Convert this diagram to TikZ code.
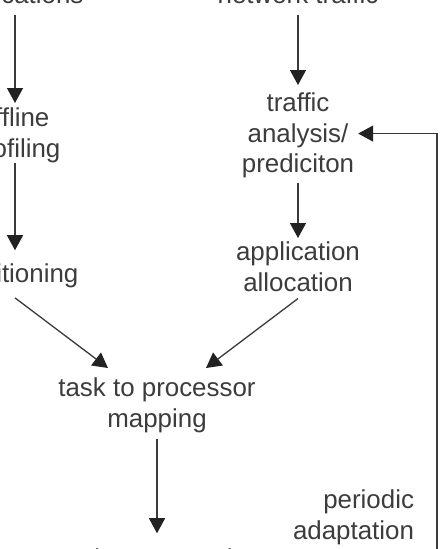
\documentclass[tikz,border=0pt]{standalone}
\usepackage{fontspec}
\setmainfont{Liberation Sans}
\usetikzlibrary{arrows.meta}
\definecolor{txt}{HTML}{3C3C3C}
\definecolor{ln}{HTML}{3A3A3A}
\definecolor{hd}{HTML}{222222}
\begin{document}
\begin{tikzpicture}[x=1pt,y=1pt,
  lbl/.style={inner sep=0pt,outer sep=0pt,align=center,text=txt,
    font=\fontsize{25.9pt}{30.5pt}\selectfont},
  arr/.style={draw=ln,line width=1.3pt,
    -{Triangle[length=15pt,width=16pt,fill=hd,color=hd]}}]
\useasboundingbox (0,0) rectangle (441,-549);
% nodes
\node[lbl,anchor=base] (app) at (15,-3) {applications};
\node[lbl,anchor=base] (net) at (298,-3) {network traffic};
\node[lbl,anchor=north] (off) at (15,-108) {offline\\profiling};
\node[lbl,anchor=north] (ta) at (298,-93) {traffic\\analysis/\\prediciton};
\node[lbl,anchor=base] (part) at (15,-282) {partitioning};
\node[lbl,anchor=north] (aa) at (298,-242) {application\\allocation};
\node[lbl,anchor=north] (tpm) at (157,-378) {task to processor\\mapping};
\node[lbl,anchor=base] (pp) at (157,-567) {packet processing};
\node[lbl,anchor=north east,align=right] (pa) at (414,-490) {periodic\\adaptation};
\coordinate (fb) at (437,-560);
% connectors
\draw[arr,shorten <=6.5pt,shorten >=5pt] (app.south) -- (off.north);
\draw[arr,shorten <=12pt,shorten >=8pt] (net.south) -- (ta.north);
\draw[arr,shorten <=0.5pt,shorten >=13pt] (off.south) -- (part.north);
\draw[arr,shorten <=4.5pt,shorten >=4pt] (ta.south) -- (aa.north);
\draw[arr] ([yshift=-10.5pt]part.south) -- ([xshift=-49pt,yshift=10pt]tpm.north);
\draw[arr] ([yshift=-7pt]aa.south) -- ([xshift=49pt,yshift=10pt]tpm.north);
\draw[arr,shorten <=6.5pt,shorten >=15pt] (tpm.south) -- (pp.north);
\draw[arr,shorten >=4pt] (fb) |- ([yshift=2pt]ta.east);
\end{tikzpicture}
\end{document}
